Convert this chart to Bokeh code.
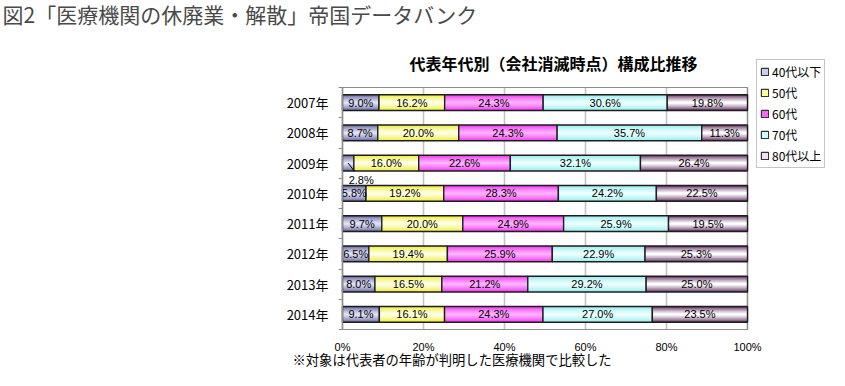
from bokeh.plotting import figure
from bokeh.models import Range1d, FixedTicker, NumeralTickFormatter, Legend, LegendItem, Label, ColumnDataSource
from bokeh.embed import file_html
from bokeh.resources import INLINE
from bokeh.core.properties import value

# ---- data ----
years = ["2007年", "2008年", "2009年", "2010年", "2011年", "2012年", "2013年", "2014年"]
series_names = ["40代以下", "50代", "60代", "70代", "80代以上"]
s40 = [9.0, 8.7, 2.8, 5.8, 9.7, 6.5, 8.0, 9.1]
s50 = [16.2, 20.0, 16.0, 19.2, 20.0, 19.4, 16.5, 16.1]
s60 = [24.3, 24.3, 22.6, 28.3, 24.9, 25.9, 21.2, 24.3]
s70 = [30.6, 35.7, 32.1, 24.2, 25.9, 22.9, 29.2, 27.0]
s80 = [19.8, 11.3, 26.4, 22.5, 19.5, 25.3, 25.0, 23.5]
x_ticks = [0, 0.2, 0.4, 0.6, 0.8, 1.0]
title_main = "図2「医療機関の休廃業・解散」帝国データバンク"
chart_title = "代表年代別（会社消滅時点）構成比推移"
footnote = "※対象は代表者の年齢が判明した医療機関で比較した"

series = [s40, s50, s60, s70, s80]
edge_c = [(0x6c, 0x6c, 0xa0), (0xee, 0xee, 0x40), (0xee, 0x3c, 0xee), (0x9c, 0xec, 0xec), (0x6a, 0x3a, 0x6a)]
cen_c = [(0xe0, 0xe0, 0xf6), (0xff, 0xff, 0xe6), (0xff, 0xb0, 0xff), (0xec, 0xff, 0xff), (0xff, 0xff, 0xff)]
leg_c = ["#ccccee", "#ffff99", "#ff66ff", "#ccffff", "#f0e0f0"]

n = len(years)
pos = [n - 1 - i for i in range(n)]
totals = [sum(s[i] for s in series) for i in range(n)]

W, H = 829, 370
PL, PT, PW, PH = 342, 87, 405, 242   # plot area in canvas pixels
row_px = PH / n

def dx(px):
    return (px - PL) / PW

def dy(py):
    return (n - 0.5) - (py - PT) / row_px

p = figure(width=W, height=H, min_border=0, min_border_left=0, min_border_right=0,
           min_border_top=0, min_border_bottom=0,
           x_range=Range1d(dx(0), dx(W)), y_range=Range1d(dy(H), dy(0)),
           output_backend="svg", toolbar_location=None, title=None)
p.outline_line_color = None
p.background_fill_color = "white"
p.border_fill_color = "white"
p.xgrid.grid_line_color = None
p.ygrid.grid_line_color = None

# axes placed at the plot-area edges
xa = p.xaxis[0]
xa.fixed_location = -0.5
xa.bounds = (x_ticks[0], x_ticks[-1])
xa.ticker = FixedTicker(ticks=x_ticks)
xa.formatter = NumeralTickFormatter(format="0%")
xa.major_tick_line_color = None
xa.major_tick_out = 0
xa.minor_tick_line_color = None
xa.axis_line_color = "#8c8c8c"
xa.axis_line_width = 1.2
xa.major_label_standoff = 11
xa.major_label_text_font = "Liberation Sans"
xa.major_label_text_font_size = "11px"
xa.major_label_text_color = "black"

ya = p.yaxis[0]
ya.fixed_location = x_ticks[0]
ya.bounds = (-0.5, n - 0.5)
ya.ticker = FixedTicker(ticks=pos, minor_ticks=[k - 0.5 for k in range(n + 1)])
ya.major_label_overrides = {pos[i]: years[i] for i in range(n)}
ya.major_tick_line_color = None
ya.major_tick_out = 0
ya.minor_tick_line_color = "#8c8c8c"
ya.minor_tick_out = 4
ya.minor_tick_in = 0
ya.axis_line_color = "#8c8c8c"
ya.axis_line_width = 1.2
ya.major_label_standoff = 10
ya.major_label_text_font = "Noto Sans CJK JP"
ya.major_label_text_font_size = "13px"
ya.major_label_text_color = "black"

# grid lines and plot box
p.segment(x0=x_ticks, y0=[-0.5] * len(x_ticks), x1=x_ticks, y1=[n - 0.5] * len(x_ticks),
          line_color="#c4c4c4", line_width=1.6)
p.quad(left=[x_ticks[0]], right=[x_ticks[-1]], bottom=[-0.5], top=[n - 0.5],
       fill_color=None, line_color="#8c8c8c", line_width=1.2)

def hexc(c):
    return "#%02x%02x%02x" % tuple(int(round(v)) for v in c)

K = 7
BAR_H = 0.52
legend_items = []
cum = [0.0] * n
norm_x, norm_y, norm_t = [], [], []
small_x, small_y, small_t = [], [], []
for j, s in enumerate(series):
    left = [cum[i] / totals[i] for i in range(n)]
    right = [(cum[i] + s[i]) / totals[i] for i in range(n)]
    src = ColumnDataSource(dict(y=pos, left=left, right=right))
    for k in range(K):
        t = k / (K - 1)
        t = t ** 0.8
        col = [edge_c[j][c] + (cen_c[j][c] - edge_c[j][c]) * t for c in range(3)]
        p.hbar(y="y", left="left", right="right", height=BAR_H * (1 - k / K), source=src,
               fill_color=hexc(col), line_color=None)
    p.hbar(y="y", left="left", right="right", height=BAR_H, source=src,
           fill_color=None, line_color="#1e1e1e", line_width=1.4)
    # legend swatch: drawn exactly under the bars (hidden by them), shown in the legend
    sw = p.hbar(y="y", left="left", right="right", height=0.01, source=src,
                fill_color=leg_c[j], line_color="#333333", line_width=1.2, level="underlay")
    legend_items.append(LegendItem(label=series_names[j], renderers=[sw]))
    for i in range(n):
        mid = (left[i] + right[i]) / 2
        lbl = f"{s[i]:.1f}%"
        if s[i] < 4:
            small_x.append(mid); small_y.append(pos[i]); small_t.append(lbl)
        else:
            norm_x.append(mid); norm_y.append(pos[i]); norm_t.append(lbl)
        cum[i] += s[i]

p.text(x=norm_x, y=norm_y, text=norm_t, text_align="center", text_baseline="middle",
       text_font=value("Liberation Sans"), text_font_size="11px", text_color="black")
p.segment(x0=small_x, y0=small_y,
          x1=[x + 6 / PW for x in small_x], y1=[y - 0.26 for y in small_y],
          line_color="black", line_width=1)
p.text(x=small_x, y=[y - 0.56 for y in small_y], text=small_t, x_offset=13,
       text_align="center", text_baseline="middle",
       text_font=value("Liberation Sans"), text_font_size="11px", text_color="black")

legend = Legend(items=legend_items, location=(756, 202))
legend.border_line_color = "#8c8c8c"
legend.border_line_width = 1
legend.background_fill_color = "white"
legend.background_fill_alpha = 1
legend.padding = 3
legend.spacing = 4
legend.margin = 0
legend.label_height = 16
legend.glyph_width = 9
legend.glyph_height = 9
legend.label_standoff = 3
legend.label_text_font = "Noto Sans CJK JP"
legend.label_text_font_size = "12px"
legend.label_text_color = "black"
p.add_layout(legend, "center")

p.add_layout(Label(x=dx(2), y=dy(13), text=title_main, text_align="left",
                   text_baseline="middle", text_font="Noto Sans CJK JP",
                   text_font_size="21px", text_color="#4a4a4a"))
p.add_layout(Label(x=dx(553), y=dy(62), text=chart_title, text_align="center",
                   text_baseline="middle", text_font="Noto Sans CJK JP",
                   text_font_size="16px", text_font_style="bold", text_color="black"))
p.add_layout(Label(x=dx(292), y=dy(359), text=footnote, text_align="left",
                   text_baseline="middle", text_font="Noto Sans CJK JP",
                   text_font_size="13.3px", text_color="black"))

open("out.html", "w").write(file_html(p, INLINE))
